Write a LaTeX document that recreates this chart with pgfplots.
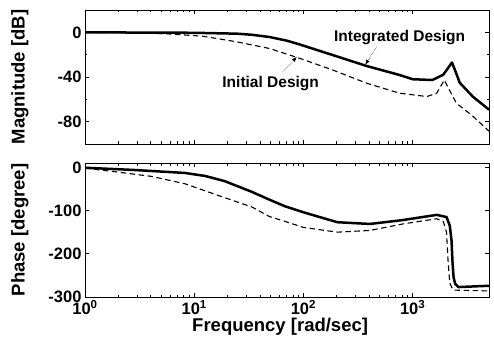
\documentclass[border=0pt]{standalone}
\usepackage{fontspec}
\setmainfont{Liberation Sans}
\usepackage{pgfplots}
\pgfplotsset{compat=1.18}
\usetikzlibrary{arrows.meta}
\pgfplotsset{
  bodestyle/.style={
    scale only axis, width=404pt, height=134pt,
    xmin=1, xmax=5000,
    tick align=inside,
    major tick length=4pt, minor tick length=2.5pt,
    tick style={line width=0.6pt, black},
    axis line style={line width=0.9pt},
    tick label style={font=\bfseries\fontsize{16.5}{16.5}\selectfont},
    label style={font=\bfseries\fontsize{18.5}{18.5}\selectfont},
    /pgf/number format/assume math mode=true,
    ylabel style={at={(axis description cs:-0.161,0.5)}, anchor=center},
    xtick={1,10,100,1000},
  },
  solline/.style={black, line width=2.5pt, line join=round},
  dshline/.style={black, line width=1.1pt, dash pattern=on 5.5pt off 3.5pt},
}
\begin{document}
\begin{tikzpicture}
\useasboundingbox (0pt,0pt) rectangle (494pt,343pt);
% ---------- Magnitude ----------
\begin{axis}[xmode=log, bodestyle, at={(85pt,199pt)}, anchor=south west,
  ymin=-100, ymax=20,
  ytick={-80,-40,0}, minor ytick={-60,-20},
  xticklabels={},
  ylabel={Magnitude [dB]}]
\addplot[solline] coordinates {
 (1,0) (10,-0.4) (24.55,-1.2) (33.9,-2.2) (48.98,-4.2) (70.8,-7.5)
 (93.3,-11) (186.2,-20.4) (380.2,-30.2) (758.6,-38.2) (1000,-42)
 (1514,-42.7) (1905,-38) (2291,-27) (2512,-37) (2692,-45) (3548,-57.5) (5012,-69.3)};
\addplot[dshline] coordinates {
 (1,0) (3,-0.5) (6.03,-1.5) (12.02,-3.5) (24.55,-8.5) (48.98,-14.5)
 (93.3,-23.4) (186.2,-33.8) (380.2,-45.6) (758.6,-54.5) (1349,-57.5)
 (1660,-54.5) (1950,-42.7) (2089,-48.6) (2512,-63.4) (3548,-75) (5012,-88.6)};
\node[font=\bfseries\fontsize{15.5}{16}\selectfont] at (axis cs:759,-4.4) {Integrated Design};
\node[font=\bfseries\fontsize{15.5}{16}\selectfont] at (axis cs:50.1,-46.2) {Initial Design};
\draw[densely dotted, line width=0.5pt, -{Latex[length=5pt,width=4pt]}] (axis cs:468,-13) -- (axis cs:368,-29);
\draw[densely dotted, line width=0.5pt, -{Latex[length=5pt,width=4pt]}] (axis cs:64.6,-35.6) -- (axis cs:87,-22);
\end{axis}
% ---------- Phase ----------
\begin{axis}[xmode=log, bodestyle, at={(85pt,46pt)}, anchor=south west,
  ymin=-300, ymax=10,
  ytick={-300,-200,-100,0},
  xticklabels={10\textsuperscript{0},10\textsuperscript{1},10\textsuperscript{2},10\textsuperscript{3}},
  ylabel={Phase [degree]},
  xlabel={Frequency [rad/sec]},
  xlabel style={at={(axis description cs:0.483,-0.224)}, anchor=center}]
\addplot[solline] coordinates {
 (1,-1) (2.754,-6) (8.22,-13) (12.59,-20) (19.05,-32) (33.88,-57)
 (48.98,-75) (67.6,-90) (100,-104) (204.2,-127) (407.4,-131)
 (812.8,-122) (1660,-110) (2042,-115) (2188,-135) (2270,-170) (2317,-220)
 (2371,-255) (2455,-270) (2630,-277) (5012,-274)};
\addplot[dshline] coordinates {
 (1,-2) (2.0,-11) (4.07,-21) (8.22,-38) (16.6,-65) (33.88,-92)
 (48.98,-114) (67.6,-125) (100,-139) (204.2,-150) (407.4,-146)
 (812.8,-131) (1660,-119) (1905,-125) (2042,-150) (2113,-220)
 (2188,-268) (2344,-284) (5012,-286)};
\end{axis}
\end{tikzpicture}
\end{document}
